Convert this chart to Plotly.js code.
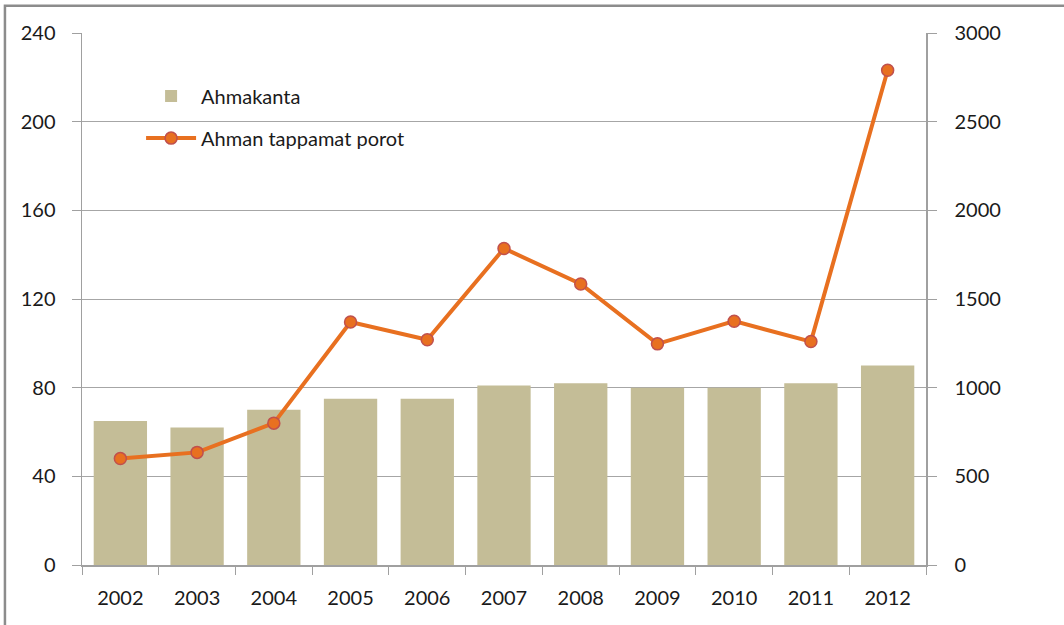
<!DOCTYPE html>
<html>
<head>
<meta charset="utf-8">
<script src="https://cdn.plot.ly/plotly-3.0.1.min.js"></script>
<style>html,body{margin:0;padding:0;background:#fff;}#chart{width:1064px;height:625px;}</style>
</head>
<body>
<div id="chart"></div>
<script>
const years = ["2002","2003","2004","2005","2006","2007","2008","2009","2010","2011","2012"];
const ahmakanta = [65, 62, 70, 75, 75, 81, 82, 80, 80, 82, 90];
const tappamatPorot = [600, 635, 800, 1370, 1270, 1785, 1585, 1247, 1375, 1260, 2790];
const leftTicks = [0, 40, 80, 120, 160, 200, 240];
const rightTicks = [0, 500, 1000, 1500, 2000, 2500, 3000];

const font = {family: "Lato, 'Open Sans', sans-serif", size: 20, color: "#1a1a1a"};

const traces = [
  {
    type: "bar", name: "Ahmakanta", x: years, y: ahmakanta,
    marker: {color: "#c4bd97"}, yaxis: "y", legendgroup: "a"
  },
  {
    type: "scatter", mode: "lines+markers", name: "Ahman tappamat porot",
    x: years, y: tappamatPorot, yaxis: "y2", legendgroup: "b",
    line: {color: "#e87020", width: 4},
    marker: {color: "#e87020", size: 12, line: {color: "#c0504d", width: 1.5}}
  }
];

const layout = {
  width: 1064, height: 625,
  margin: {l: 82, r: 138, t: 33, b: 60},
  paper_bgcolor: "#fff", plot_bgcolor: "#fff",
  font: font,
  bargap: 0.305,
  showlegend: true,
  legend: {
    x: 0.07, y: 0.918, xanchor: "left", yanchor: "top",
    traceorder: "grouped", tracegroupgap: 13,
    bgcolor: "rgba(0,0,0,0)", font: {family: font.family, size: 20, color: "#1a1a1a"},
    itemwidth: 50
  },
  xaxis: {
    type: "category", range: [-0.5, 10.5], tickson: "boundaries", ticks: "outside", ticklen: 8,
    tickcolor: "#a0a0a0", showline: true, linecolor: "#a0a0a0", linewidth: 1.5,
    showgrid: false, tickfont: font, ticklabelstandoff: 14, fixedrange: true
  },
  yaxis: {
    range: [0, 240], tickvals: leftTicks, ticks: "outside", ticklen: 9,
    tickcolor: "#a0a0a0", showline: true, linecolor: "#a0a0a0", linewidth: 1.5,
    showgrid: true, gridcolor: "#a6a6a6", gridwidth: 1, zeroline: false,
    tickfont: font, ticklabelstandoff: 12
  },
  yaxis2: {
    range: [0, 3000], tickvals: rightTicks, overlaying: "y", side: "right",
    ticks: "outside", ticklen: 9, tickcolor: "#a0a0a0", showline: true,
    linecolor: "#a0a0a0", linewidth: 1.5, showgrid: false, zeroline: false,
    tickfont: font, ticklabelstandoff: 14
  },
  shapes: [
    {type: "path", xref: "paper", yref: "paper",
     path: "M -0.0913,-0.2 L -0.0913,1.0513 L 1.3,1.0513",
     line: {color: "#8c8c8c", width: 2.5}}
  ]
};

Plotly.newPlot("chart", traces, layout, {displayModeBar: false, staticPlot: true});
</script>
</body>
</html>
